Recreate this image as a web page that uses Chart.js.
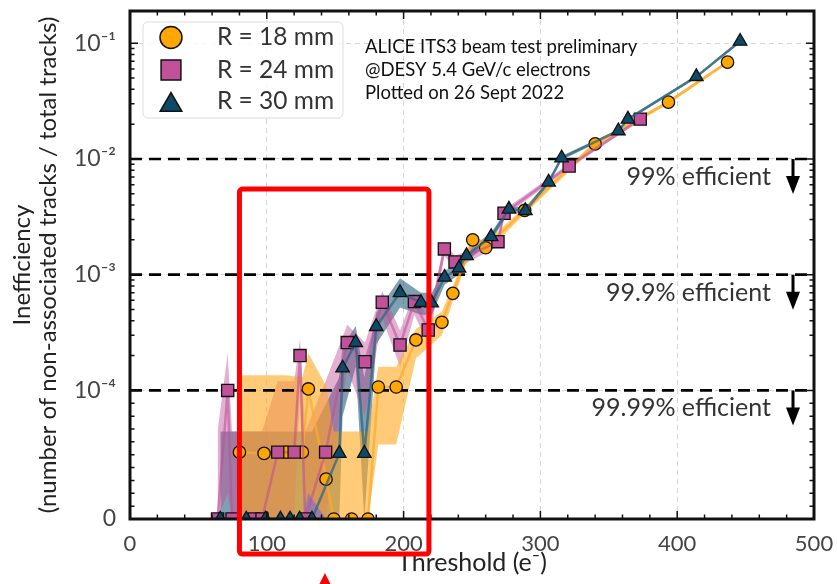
<!DOCTYPE html>
<html>
<head>
<meta charset="utf-8">
<script src="https://cdn.jsdelivr.net/npm/chart.js@4.4.0/dist/chart.umd.min.js"></script>
<style>
  html, body { margin: 0; padding: 0; background: #fff; }
</style>
</head>
<body>
<canvas id="chart" width="837" height="584"></canvas>
<script>
// R = 18 mm
const thresholds18 = [80, 98, 114, 126, 130.4, 143.3, 149, 162, 174, 181.5, 194.6, 209, 228, 236, 250.5, 260, 288.5, 340, 393.6, 436.8];
const values18 = [5.2e-5, 5.1e-5, 5.2e-5, 5.2e-5, 1.03e-4, 3.1e-5, 0, 0, 0, 1.07e-4, 1.07e-4, 2.73e-4, 3.88e-4, 6.9e-4, 2.0e-3, 1.71e-3, 3.6e-3, 1.35e-2, 3.1e-2, 6.87e-2];
const lower18 = [0, 0, 0, 0, 2e-5, 0, 0, 0, 0, 5.8e-5, 5.8e-5, 1.9e-4, 3.0e-4, 5.9e-4, 1.8e-3, 1.55e-3, 3.35e-3, 1.28e-2, 2.98e-2, 6.65e-2];
const upper18 = [1.35e-4, 1.35e-4, 1.35e-4, 1.3e-4, 2.1e-4, 1.1e-4, 6.8e-5, 6.8e-5, 6.8e-5, 1.6e-4, 1.6e-4, 3.4e-4, 4.8e-4, 8.0e-4, 2.2e-3, 1.9e-3, 3.85e-3, 1.42e-2, 3.22e-2, 7.1e-2];

// R = 24 mm
const thresholds24 = [64, 71.4, 74.6, 91, 96.5, 108, 120, 124.3, 128, 143, 158.8, 171.8, 184.4, 197.4, 207.9, 218, 229.8, 237.6, 269, 273.4, 321, 373];
const values24 = [0, 1.0e-4, 0, 0, 0, 5.2e-5, 5.2e-5, 2.0e-4, 0, 5.2e-5, 2.59e-4, 1.77e-4, 5.78e-4, 2.47e-4, 5.86e-4, 3.33e-4, 1.67e-3, 1.29e-3, 1.93e-3, 3.4e-3, 8.7e-3, 2.21e-2];
const lower24 = [0, 2e-5, 0, 0, 0, 0, 0, 1.0e-4, 0, 0, 1.5e-4, 8e-5, 4.2e-4, 1.6e-4, 4.5e-4, 2.5e-4, 1.45e-3, 1.12e-3, 1.75e-3, 3.15e-3, 8.3e-3, 2.13e-2];
const upper24 = [6.8e-5, 2.1e-4, 6.8e-5, 6.8e-5, 6.8e-5, 1.2e-4, 1.2e-4, 2.8e-4, 6.8e-5, 1.2e-4, 3.7e-4, 2.6e-4, 7.2e-4, 3.3e-4, 7.0e-4, 4.2e-4, 1.9e-3, 1.45e-3, 2.12e-3, 3.65e-3, 9.1e-3, 2.29e-2];

// R = 30 mm
const thresholds30 = [66, 85, 99, 110, 117, 124, 133, 153, 155.4, 165, 171.3, 180, 197.4, 212.7, 220.5, 230, 240.5, 246, 264, 277, 289, 306, 315.5, 357, 364, 414, 446];
const values30 = [0, 0, 0, 0, 0, 0, 0, 5.1e-5, 1.56e-4, 2.59e-4, 5.1e-5, 3.56e-4, 7.0e-4, 5.74e-4, 5.7e-4, 9.5e-4, 1.14e-3, 1.46e-3, 2.13e-3, 3.68e-3, 3.58e-3, 6.3e-3, 1.02e-2, 1.75e-2, 2.21e-2, 5.15e-2, 1.04e-1];
const lower30 = [0, 0, 0, 0, 0, 0, 0, 0, 8e-5, 1.6e-4, 0, 2.5e-4, 5.2e-4, 4.5e-4, 4.5e-4, 8.2e-4, 1.0e-3, 1.3e-3, 1.95e-3, 3.45e-3, 3.35e-3, 6.0e-3, 9.8e-3, 1.69e-2, 2.14e-2, 5.0e-2, 1.01e-1];
const upper30 = [6.8e-5, 6.8e-5, 6.8e-5, 6.8e-5, 6.8e-5, 6.8e-5, 6.8e-5, 1.3e-4, 2.4e-4, 3.6e-4, 1.3e-4, 4.7e-4, 9.3e-4, 7.0e-4, 7.0e-4, 1.08e-3, 1.28e-3, 1.62e-3, 2.3e-3, 3.9e-3, 3.8e-3, 6.6e-3, 1.06e-2, 1.81e-2, 2.28e-2, 5.3e-2, 1.07e-1];

const seriesLabels = ['R = 18 mm', 'R = 24 mm', 'R = 30 mm'];
const effLevels = [1e-2, 1e-3, 1e-4];
const effLabels = ['99% efficient', '99.9% efficient', '99.99% efficient'];
const yTickValues = [0, 1e-4, 1e-3, 1e-2, 1e-1];
const yTickLabels = ['0', '10⁻⁴', '10⁻³', '10⁻²', '10⁻¹'];
const xTickStep = 100;
const infoLines = ['ALICE ITS3 beam test preliminary', '@DESY 5.4 GeV/c electrons', 'Plotted on 26 Sept 2022'];
const xTitle = 'Threshold (e⁻)';
const yTitle = ['Inefficiency', '(number of non-associated tracks / total tracks)'];
const highlightX = [80, 218.5];
const highlightTop = 5.5e-3;
const arrowX = 142.5;

// symmetric log scale: linear below 1e-4, log above (like matplotlib symlog)
const LINTHRESH = 1e-4;
const LINSCALE = 1 / (1 - 0.1);
function symT(v) {
  if (v <= LINTHRESH) return (v / LINTHRESH) * LINSCALE;
  return LINSCALE + Math.log10(v / LINTHRESH);
}
function symInv(t) {
  if (t <= LINSCALE) return t / LINSCALE * LINTHRESH;
  return LINTHRESH * Math.pow(10, t - LINSCALE);
}

class SymlogScale extends Chart.LinearScale {
  determineDataLimits() {
    this.min = this.options.min;
    this.max = this.options.max;
  }
  buildTicks() {
    return yTickValues.map(v => ({ value: v }));
  }
  getPixelForValue(value) {
    if (value === null || value === undefined) return NaN;
    return this.getPixelForDecimal(symT(value) / symT(this.max));
  }
  getValueForPixel(pixel) {
    return symInv(this.getDecimalForPixel(pixel) * symT(this.max));
  }
}
SymlogScale.id = 'symlog';
SymlogScale.defaults = {};
Chart.register(SymlogScale);

function pts(xs, ys) {
  return xs.map((x, i) => ({ x: x, y: ys[i] }));
}

const series = [
  { xs: thresholds18, ys: values18, lo: lower18, hi: upper18, color: '#FFA600',
    band: 'rgba(255,168,30,0.6)', line: 'rgba(252,172,40,0.75)', style: 'circle', radius: 6.2, order: 3 },
  { xs: thresholds24, ys: values24, lo: lower24, hi: upper24, color: '#C0519A',
    band: 'rgba(192,80,152,0.45)', line: 'rgba(192,80,152,0.6)', style: 'rect', radius: 8.6, order: 2 },
  { xs: thresholds30, ys: values30, lo: lower30, hi: upper30, color: '#0E4A68',
    band: 'rgba(22,82,112,0.55)', line: 'rgba(40,100,130,0.7)', style: 'triangle', radius: 7.8, order: 1 }
];

const datasets = [];
series.forEach(s => {
  datasets.push({ data: pts(s.xs, s.lo), showLine: true, borderColor: 'transparent', borderWidth: 0,
    pointRadius: 0, fill: false, order: 40 });
  datasets.push({ data: pts(s.xs, s.hi), showLine: true, borderColor: 'transparent', borderWidth: 0,
    pointRadius: 0, backgroundColor: s.band, fill: '-1', order: 40 });
});
effLevels.forEach(v => {
  datasets.push({ data: [{ x: 0, y: v }, { x: 500, y: v }], showLine: true, borderColor: '#000',
    borderWidth: 2.7, borderDash: [12, 7], pointRadius: 0, order: 20 });
});
series.forEach((s, i) => {
  datasets.push({ label: seriesLabels[i], data: pts(s.xs, s.ys), showLine: true, borderColor: s.line,
    borderWidth: 2.5, pointStyle: s.style, pointRadius: s.radius, pointBackgroundColor: s.color,
    pointBorderColor: '#111', pointBorderWidth: 1.3, order: s.order });
});

const bgPlugin = {
  id: 'bg',
  beforeDraw(chart) {
    const ctx = chart.ctx;
    ctx.save();
    ctx.fillStyle = '#fff';
    ctx.fillRect(0, 0, chart.width, chart.height);
    ctx.restore();
  }
};

const decoPlugin = {
  id: 'deco',
  afterDatasetsDraw(chart) {
    const { ctx, chartArea: a, scales: { x, y } } = chart;
    ctx.save();

    // inside tick marks
    ctx.strokeStyle = '#111';
    ctx.lineWidth = 1.5;
    ctx.beginPath();
    for (let v = 0; v <= 500; v += 20) {
      const px = x.getPixelForValue(v);
      const len = v % xTickStep === 0 ? 8 : 4.5;
      ctx.moveTo(px, a.bottom); ctx.lineTo(px, a.bottom - len);
      ctx.moveTo(px, a.top); ctx.lineTo(px, a.top + len);
    }
    const minor = [];
    for (let k = 1; k < 10; k++) minor.push(k * 1e-5);
    [1e-4, 1e-3, 1e-2].forEach(d => { for (let k = 2; k < 10; k++) minor.push(k * d); });
    minor.forEach(v => {
      const py = y.getPixelForValue(v);
      ctx.moveTo(a.left, py); ctx.lineTo(a.left + 4.5, py);
      ctx.moveTo(a.right, py); ctx.lineTo(a.right - 4.5, py);
    });
    yTickValues.forEach(v => {
      const py = y.getPixelForValue(v);
      ctx.moveTo(a.left, py); ctx.lineTo(a.left + 8, py);
      ctx.moveTo(a.right, py); ctx.lineTo(a.right - 8, py);
    });
    ctx.stroke();

    // frame
    ctx.lineWidth = 3;
    ctx.strokeRect(a.left, a.top, a.right - a.left, a.bottom - a.top);

    // efficiency labels and arrows
    ctx.font = '25px Lato';
    ctx.textAlign = 'right';
    ctx.textBaseline = 'middle';
    effLevels.forEach((v, i) => {
      const py = y.getPixelForValue(v);
      ctx.fillStyle = '#333';
      ctx.fillText(effLabels[i], a.right - 43, py + 18);
      const ax = a.right - 21;
      ctx.fillStyle = '#000';
      ctx.fillRect(ax - 1.5, py, 3, 20);
      ctx.beginPath();
      ctx.moveTo(ax - 7, py + 17);
      ctx.lineTo(ax + 7, py + 17);
      ctx.lineTo(ax, py + 35);
      ctx.closePath();
      ctx.fill();
    });

    // info text
    ctx.fillStyle = '#111';
    ctx.font = '18.5px Lato';
    ctx.textAlign = 'left';
    infoLines.forEach((t, i) => ctx.fillText(t, a.left + 235, a.top + 36 + i * 23));

    // legend
    const lx = a.left + 13, ly = a.top + 11;
    ctx.beginPath();
    ctx.roundRect(lx, ly, 200, 96, 5);
    ctx.fillStyle = 'rgba(255,255,255,0.85)';
    ctx.fill();
    ctx.strokeStyle = '#dcdcdc';
    ctx.lineWidth = 1;
    ctx.stroke();
    const markerR = [11, 14, 12.5];
    const rowY = [26.5, 59, 90];
    series.forEach((s, i) => {
      const cy = a.top + rowY[i];
      ctx.fillStyle = s.color;
      ctx.strokeStyle = '#111';
      ctx.lineWidth = 1.5;
      Chart.helpers.drawPoint(ctx, { pointStyle: s.style, radius: markerR[i], borderWidth: 1.5, rotation: 0 },
        a.left + 41, cy + (s.style === 'triangle' ? 4 : 0));
      ctx.fillStyle = '#333';
      ctx.font = '24.5px Lato';
      ctx.textBaseline = 'middle';
      ctx.fillText(seriesLabels[i], a.left + 87, cy);
    });

    // highlight box
    const rx0 = x.getPixelForValue(highlightX[0]);
    const rx1 = x.getPixelForValue(highlightX[1]);
    const ry0 = y.getPixelForValue(highlightTop);
    const ry1 = a.bottom + 35;
    ctx.strokeStyle = '#ff0000';
    ctx.lineWidth = 5;
    ctx.beginPath();
    ctx.roundRect(rx0, ry0, rx1 - rx0, ry1 - ry0, 3);
    ctx.stroke();
    const arx = x.getPixelForValue(arrowX);
    ctx.fillStyle = '#ff0000';
    ctx.beginPath();
    ctx.moveTo(arx, a.bottom + 54);
    ctx.lineTo(arx - 9, a.bottom + 72);
    ctx.lineTo(arx + 9, a.bottom + 72);
    ctx.closePath();
    ctx.fill();

    ctx.restore();
  }
};

new Chart(document.getElementById('chart').getContext('2d'), {
  type: 'scatter',
  data: { datasets: datasets },
  options: {
    responsive: false,
    animation: false,
    layout: { padding: { left: 0, right: 23, top: 11, bottom: 0 } },
    plugins: { legend: { display: false }, tooltip: { enabled: false } },
    scales: {
      x: {
        type: 'linear', min: 0, max: 500,
        ticks: { stepSize: xTickStep, padding: 12, color: '#444', maxRotation: 0, font: { family: 'Lato', size: 22 } },
        grid: { color: '#d6d6d6', lineWidth: 1, drawTicks: false },
        border: { display: false, dash: [5, 4] },
        title: { display: true, text: xTitle, color: '#222', font: { family: 'Lato', size: 25, lineHeight: 1.1 }, padding: { top: 0, bottom: 7 } },
        afterFit: s => { s.height = 65; s.paddingLeft = 0; s.paddingRight = 0; }
      },
      y: {
        type: 'symlog', min: 0, max: 0.19,
        ticks: { padding: 14, color: '#444', font: { family: 'Lato', size: 23 },
          callback: v => yTickLabels[yTickValues.indexOf(v)] },
        grid: { color: '#d6d6d6', lineWidth: 1, drawTicks: false },
        border: { display: false, dash: [5, 4] },
        title: { display: true, text: yTitle, color: '#222', font: { family: 'Lato', size: 24, lineHeight: 1.1 }, padding: { top: 9, bottom: 0 } },
        afterFit: s => { s.width = 130; s.paddingTop = 0; s.paddingBottom = 0; }
      }
    }
  },
  plugins: [bgPlugin, decoPlugin]
});
</script>
</body>
</html>
